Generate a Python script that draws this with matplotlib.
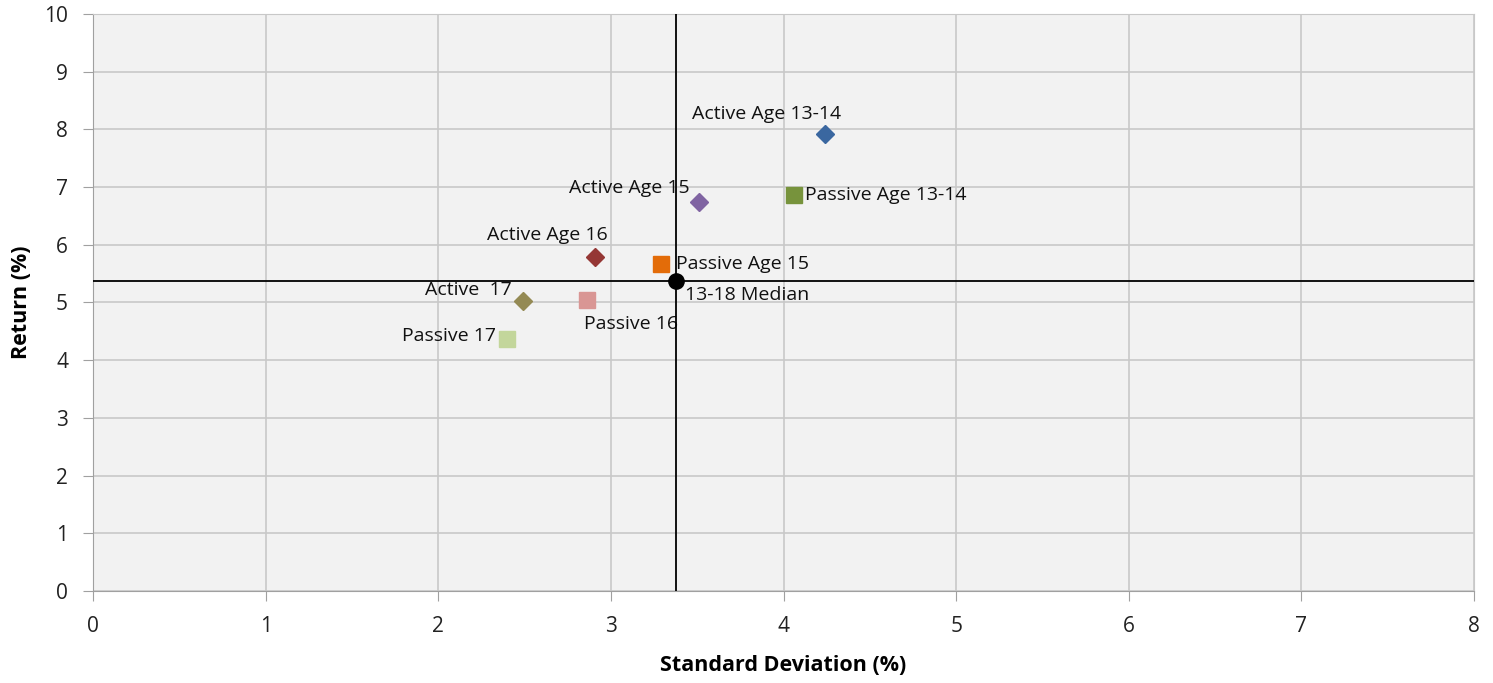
import matplotlib.pyplot as plt

# series: name, std dev, return, marker, colour
names = ["Active Age 13-14", "Passive Age 13-14", "Active Age 15", "Active Age 16",
         "Passive Age 15", "Active  17", "Passive 16", "Passive 17"]
std_dev = [4.24, 4.06, 3.51, 2.91, 3.29, 2.49, 2.86, 2.40]
returns = [7.92, 6.86, 6.74, 5.79, 5.67, 5.03, 5.04, 4.37]
markers = ["D", "s", "D", "D", "s", "D", "s", "s"]
colors = ["#3a67a0", "#77933c", "#8064a2", "#953735", "#e36c09", "#948a54", "#d99694", "#c3d69b"]

median_name = "13-18 Median"
median_std = 3.38
median_ret = 5.37

FONT = "Open Sans"

# label offsets in points (dx, dy) and alignment
label_offsets = [(-42, 14, "center"), (8, 0, "left"), (-7, 10, "right"), (9, 16, "right"),
                 (11, 0, "left"), (-8, 8, "right"), (-2, -17, "left"), (-8, 2, "right")]

fig = plt.figure(figsize=(14.93, 6.83), dpi=100)
ax = fig.add_axes([0.0623, 0.1347, 0.925, 0.845])
ax.set_facecolor("#f2f2f2")

for i in range(len(names)):
    ms = 9.5 if markers[i] == "D" else 11.5
    ax.plot(std_dev[i], returns[i], marker=markers[i], color=colors[i],
            markersize=ms, linestyle="none", zorder=4)
    dx, dy, ha = label_offsets[i]
    ax.annotate(names[i], (std_dev[i], returns[i]), xytext=(dx, dy),
                textcoords="offset points", ha=ha, va="center",
                fontsize=14, family=FONT, color="#111111")

ax.axvline(median_std, color="black", linewidth=1.3, zorder=3)
ax.axhline(median_ret, color="black", linewidth=1.3, zorder=3)
ax.plot(median_std, median_ret, marker="o", color="black", markersize=11, zorder=5)
ax.annotate(median_name, (median_std, median_ret), xytext=(6, -10),
            textcoords="offset points", ha="left", va="center",
            fontsize=14, family=FONT, color="#111111")

ax.set_xlim(0, 8)
ax.set_ylim(0, 10)
ax.set_xticks(range(0, 9))
ax.set_yticks(range(0, 11))
ax.grid(True, color="#c8c8c8", linewidth=1.2)
ax.set_axisbelow(True)
for s in ax.spines.values():
    s.set_color("#a0a0a0")
ax.spines["top"].set_color("#c8c8c8")
ax.spines["right"].set_color("#c8c8c8")
ax.tick_params(direction="out", length=7, color="#a0a0a0", labelsize=15)
ax.tick_params(axis="x", pad=11)
ax.tick_params(axis="y", pad=11)
for lab in ax.get_xticklabels() + ax.get_yticklabels():
    lab.set_family(FONT)
    lab.set_color("#222222")

ax.set_xlabel("Standard Deviation (%)", fontsize=15.5, fontweight="bold",
              family=FONT, labelpad=13)
ax.set_ylabel("Return (%)", fontsize=15.5, fontweight="bold",
              family=FONT, labelpad=9)

fig.savefig("out.png", dpi=100)
